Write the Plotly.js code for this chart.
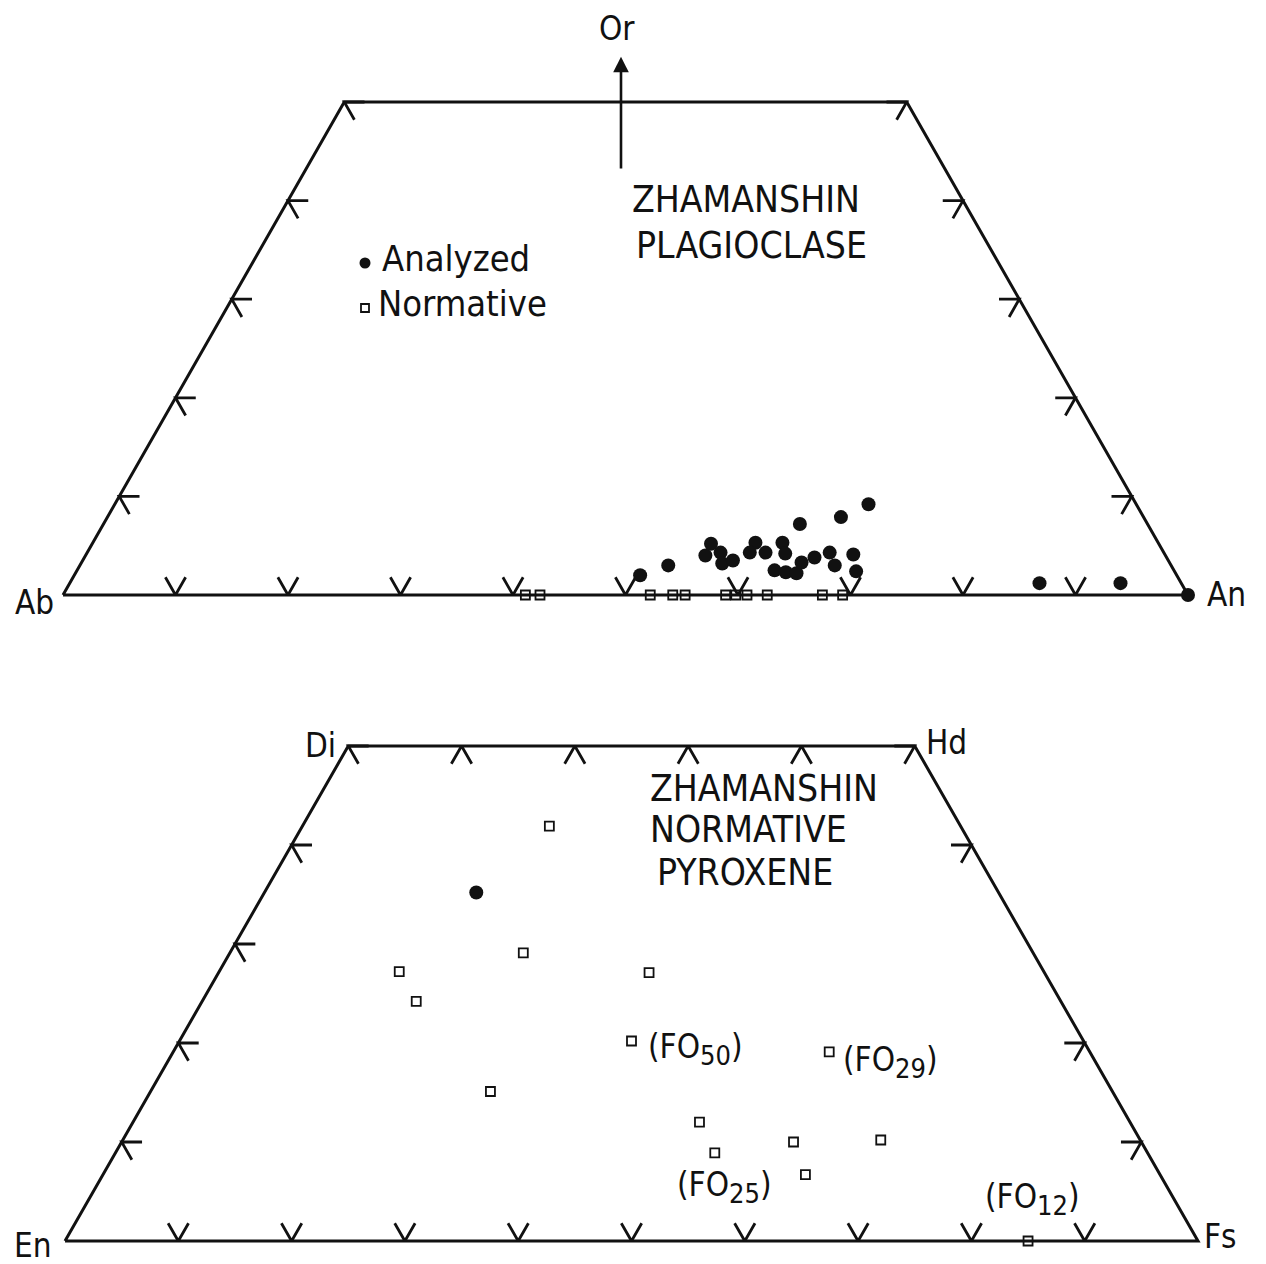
<!DOCTYPE html>
<html>
<head>
<meta charset="utf-8">
<script src="https://cdn.plot.ly/plotly-3.0.1.min.js"></script>
<style>html,body{margin:0;padding:0;background:#fff;}</style>
</head>
<body>
<div id="chart" style="width:1266px;height:1264px;"></div>
<script>
// ---------------- DATA ----------------
// Plagioclase (Ab - An - Or), values in mol %
const plagAnalyzedAn = [50.3, 52.3, 55.0, 55.1, 56.3, 57.0, 57.8, 58.9, 58.9, 60.3, 61.3, 62.1, 61.9, 62.0, 63.1, 64.1, 64.0, 64.9, 66.0, 67.1, 65.2, 68.2, 69.3, 67.0, 86.2, 93.4, 100.0];
const plagAnalyzedOr = [2.0, 3.0, 5.2, 4.0, 4.3, 3.2, 3.5, 5.3, 4.3, 4.3, 5.3, 4.2, 7.2, 2.5, 2.3, 2.2, 3.3, 3.8, 4.3, 3.0, 7.9, 4.1, 2.4, 9.2, 1.2, 1.2, 0.0];
const plagNormativeAn = [41.1, 42.4, 52.2, 54.2, 55.3, 58.9, 59.8, 60.8, 62.6, 67.5, 69.3];
const plagNormativeOr = [0, 0, 0, 0, 0, 0, 0, 0, 0, 0, 0];

// Pyroxene (En - Fs - Wo), values in mol %
const pyxNormativeFs = [21.8, 25.9, 15.9, 18.9, 38.0, 39.9, 57.9, 30.0, 50.0, 52.9, 59.3, 66.9, 62.0, 85.0];
const pyxNormativeWo = [41.9, 29.1, 27.2, 24.2, 27.1, 20.2, 19.1, 15.1, 12.0, 8.9, 10.0, 10.2, 6.7, 0.0];
const pyxAnalyzedFs = [18.7];
const pyxAnalyzedWo = [35.2];

// olivine annotations: label text and the index of the normative pyroxene point it belongs to
const foMain = ['(FO', '(FO', '(FO', '(FO'];
const foSub = ['50', '29', '25', '12'];
const foPointIndex = [5, 6, 9, 13];

// tick values (%)
const plagBaseTicks = [10, 20, 30, 40, 50, 60, 70, 80, 90];
const plagSideTicks = [10, 20, 30, 40, 50];
const pyxBaseTicks = [10, 20, 30, 40, 50, 60, 70, 80, 90];
const pyxLeftTicks = [10, 20, 30, 40, 50];
const pyxRightTicks = [10, 20, 40, 50];
const pyxTopTicks = [10, 20, 30, 40];

const plagCorners = ['Ab', 'An', 'Or'];
const pyxCorners = ['En', 'Fs', 'Di', 'Hd'];
const plagTitle = ['ZHAMANSHIN', 'PLAGIOCLASE'];
const pyxTitle = ['ZHAMANSHIN', 'NORMATIVE', 'PYROXENE'];
const legendNames = ['Analyzed', 'Normative'];

// ---------------- HELPERS ----------------
const FONT = '"DejaVu Sans Condensed", "Liberation Sans Narrow", "DejaVu Sans", sans-serif';
const INK = '#111';
const TOP = 50; // truncation level of the trapezoids (Or or Wo = 50 %)
const L = 1.8;  // tick arm length in composition units

// ternary -> cartesian (x along base, y = amount of apex component)
const tx = (b, a) => b + a / 2;
const px = v => v / 1266;
const py = v => 1 - v / 1264;

function outline() {
  return { x: [0, tx(0, TOP), tx(100 - TOP, TOP), 100, 0], y: [0, TOP, TOP, 0, 0] };
}
function ticks(base, left, right, top) {
  const x = [], y = [];
  base.forEach(t => { x.push(t - L / 2, t, t + L / 2, null); y.push(L, 0, L, null); });
  left.forEach(s => { const x0 = s / 2; x.push(x0 + L, x0, x0 + L / 2, null); y.push(s, s, s - L, null); });
  right.forEach(s => { const x0 = 100 - s / 2; x.push(x0 - L, x0, x0 - L / 2, null); y.push(s, s, s - L, null); });
  top.forEach(f => { const x0 = tx(f, TOP); x.push(x0 - L / 2, x0, x0 + L / 2, null); y.push(TOP - L, TOP, TOP - L, null); });
  return { x, y };
}

const o1 = outline(), o2 = outline();
const t1 = ticks(plagBaseTicks, plagSideTicks, plagSideTicks, []);
const t2 = ticks(pyxBaseTicks, pyxLeftTicks, pyxRightTicks, pyxTopTicks);

const lineStyle = { color: INK, width: 3 };
const tickStyle = { color: INK, width: 2.8 };
const circ = { symbol: 'circle', size: 14, color: INK };
const sq = { symbol: 'square-open', size: 9, color: INK, line: { width: 1.8, color: INK } };

const traces = [
  { x: o1.x, y: o1.y, mode: 'lines', line: lineStyle, xaxis: 'x', yaxis: 'y', hoverinfo: 'skip' },
  { x: t1.x, y: t1.y, mode: 'lines', line: tickStyle, xaxis: 'x', yaxis: 'y', hoverinfo: 'skip' },
  { x: plagNormativeAn.map((a, i) => tx(a, plagNormativeOr[i])), y: plagNormativeOr, mode: 'markers', marker: sq, xaxis: 'x', yaxis: 'y', cliponaxis: false },
  { x: plagAnalyzedAn.map((a, i) => tx(a, plagAnalyzedOr[i])), y: plagAnalyzedOr, mode: 'markers', marker: circ, xaxis: 'x', yaxis: 'y', cliponaxis: false },

  { x: o2.x, y: o2.y, mode: 'lines', line: lineStyle, xaxis: 'x2', yaxis: 'y2', hoverinfo: 'skip' },
  { x: t2.x, y: t2.y, mode: 'lines', line: tickStyle, xaxis: 'x2', yaxis: 'y2', hoverinfo: 'skip' },
  { x: pyxNormativeFs.map((f, i) => tx(f, pyxNormativeWo[i])), y: pyxNormativeWo, mode: 'markers', marker: sq, xaxis: 'x2', yaxis: 'y2', cliponaxis: false },
  { x: pyxAnalyzedFs.map((f, i) => tx(f, pyxAnalyzedWo[i])), y: pyxAnalyzedWo, mode: 'markers', marker: circ, xaxis: 'x2', yaxis: 'y2', cliponaxis: false },

  // legend symbols
  { x: [0], y: [0], mode: 'markers', marker: Object.assign({}, circ, { size: 11 }), xaxis: 'x3', yaxis: 'y3', cliponaxis: false, hoverinfo: 'skip' },
  { x: [0], y: [1], mode: 'markers', marker: Object.assign({}, sq, { size: 8 }), xaxis: 'x3', yaxis: 'y3', cliponaxis: false, hoverinfo: 'skip' }
];

function txt(text, x, y, size, xanchor) {
  return { text, xref: 'paper', yref: 'paper', x: px(x), y: py(y), xanchor: xanchor || 'left', yanchor: 'middle',
           showarrow: false, font: { family: FONT, size: size, color: INK } };
}

const ann = [
  txt(plagCorners[0], 13, 602, 33),
  txt(plagCorners[1], 1205, 594, 33),
  txt(plagCorners[2], 617, 28, 33, 'center'),
  txt(plagTitle[0], 630, 200, 37),
  txt(plagTitle[1], 634, 245, 37),
  txt(legendNames[0], 380, 258, 36),
  txt(legendNames[1], 376, 304, 36),
  txt(pyxCorners[0], 12, 1245, 33),
  txt(pyxCorners[1], 1202, 1236, 33),
  txt(pyxCorners[2], 303, 745, 33),
  txt(pyxCorners[3], 924, 742, 33),
  txt(pyxTitle[0], 648, 788, 37),
  txt(pyxTitle[1], 648, 830, 37),
  txt(pyxTitle[2], 655, 872, 37),
  // Or arrow
  { xref: 'x', yref: 'y', axref: 'x', ayref: 'y', x: 49.6, y: 54.6, ax: 49.6, ay: 43.1, showarrow: true,
    arrowhead: 2, arrowsize: 1.2, arrowwidth: 2.6, arrowcolor: INK, text: '' }
];

// olivine labels attached to their points
const foShift = [[14, -8, 'left'], [12, -10, 'left'], [10, -34, 'center'], [4, 42, 'center']];
foMain.forEach((t, k) => {
  const i = foPointIndex[k];
  ann.push({ text: t + '<sub><span style="font-size:27px">' + foSub[k] + '</span></sub>)',
             xref: 'x2', yref: 'y2', x: tx(pyxNormativeFs[i], pyxNormativeWo[i]), y: pyxNormativeWo[i],
             xshift: foShift[k][0], yshift: foShift[k][1], xanchor: foShift[k][2], yanchor: 'middle',
             showarrow: false, font: { family: FONT, size: 33, color: INK } });
});

const hidden = { visible: false, fixedrange: true, showgrid: false, zeroline: false };
const layout = {
  width: 1266, height: 1264, margin: { l: 0, r: 0, t: 0, b: 0 },
  paper_bgcolor: '#fff', plot_bgcolor: '#fff', showlegend: false,
  xaxis: Object.assign({}, hidden, { range: [-63 / 11.25, (1266 - 63) / 11.25], domain: [0, 1] }),
  yaxis: Object.assign({}, hidden, { range: [-(1264 - 595) / 9.86, 50 + 102 / 9.86], domain: [0, 1] }),
  xaxis2: Object.assign({}, hidden, { range: [-65 / 11.33, (1266 - 65) / 11.33], overlaying: 'x' }),
  yaxis2: Object.assign({}, hidden, { range: [-(1264 - 1241) / 9.9, 50 + 746 / 9.9], overlaying: 'y' }),
  // legend symbol axis: 0 at (365, 263), 1 at (365, 308)
  xaxis3: Object.assign({}, hidden, { range: [-365 / 10, (1266 - 365) / 10], overlaying: 'x' }),
  yaxis3: Object.assign({}, hidden, { range: [(1264 - 263) / 45, -263 / 45], overlaying: 'y' }),
  annotations: ann
};

Plotly.newPlot('chart', traces, layout, { staticPlot: true, displayModeBar: false });
</script>
</body>
</html>
